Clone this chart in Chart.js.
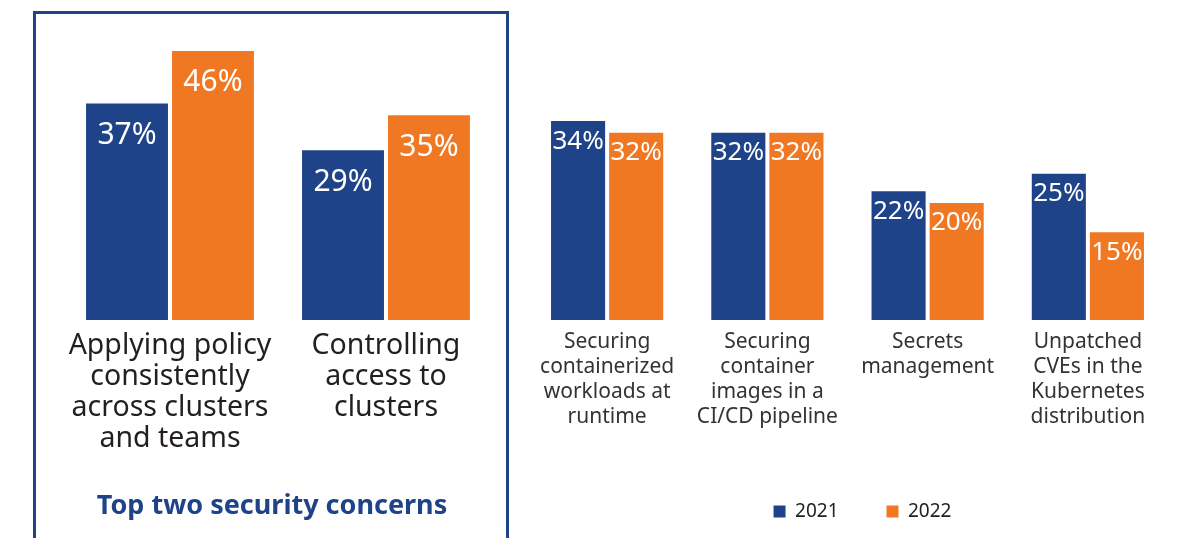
<!DOCTYPE html>
<html>
<head>
<meta charset="utf-8">
<script src="https://cdn.jsdelivr.net/npm/chart.js@4.4.1/dist/chart.umd.min.js"></script>
<style>
  html, body { margin: 0; padding: 0; background: #fff; }
  body { width: 1180px; height: 538px; position: relative; overflow: hidden; }
  #box {
    position: absolute; left: 33px; top: 11px; width: 476px; height: 560px;
    border: 3px solid #1F4388; box-sizing: border-box;
  }
  .wrap { position: absolute; top: 0; height: 538px; }
  #leftWrap  { left: 34px;  width: 474px; }
  #rightWrap { left: 520px; width: 690px; }
</style>
</head>
<body>
<div id="box"></div>
<div class="wrap" id="leftWrap"><canvas id="topChart"></canvas></div>
<div class="wrap" id="rightWrap"><canvas id="otherChart"></canvas></div>

<script>
'use strict';

/* data */
const seriesLabels = ['2021', '2022'];

const topCategories = [
  ['Applying policy', 'consistently', 'across clusters', 'and teams'],
  ['Controlling', 'access to', 'clusters'],
];
const top2021 = [37, 29];
const top2022 = [46, 35];

const otherCategories = [
  ['Securing', 'containerized', 'workloads at', 'runtime'],
  ['Securing', 'container', 'images in a', 'CI/CD pipeline'],
  ['Secrets', 'management'],
  ['Unpatched', 'CVEs in the', 'Kubernetes', 'distribution'],
];
const other2021 = [34, 32, 22, 25];
const other2022 = [32, 32, 20, 15];

const BLUE   = '#1F4388';
const ORANGE = '#F07822';
const FONT   = '"Noto Sans", "DejaVu Sans", sans-serif';

/* white % labels inside the top of each bar */
const valueLabels = {
  id: 'valueLabels',
  afterDatasetsDraw(chart, args, opts) {
    const ctx = chart.ctx;
    ctx.save();
    ctx.fillStyle = '#fff';
    ctx.font = opts.size + 'px ' + FONT;
    ctx.textAlign = 'center';
    ctx.textBaseline = 'middle';
    chart.data.datasets.forEach((ds, i) => {
      chart.getDatasetMeta(i).data.forEach((bar, j) => {
        ctx.fillText(ds.data[j] + '%', bar.x, bar.y + opts.offset);
      });
    });
    ctx.restore();
  },
};

// an empty y axis of fixed width: only used to nudge title/legend sideways
const blankY = (pos, w) => ({
  display: true, position: pos, min: 0, max: 50,
  grid: { display: false, drawTicks: false },
  border: { display: false },
  ticks: { display: false },
  afterFit: s => { s.width = w; },
});

/* ── Left: top two concerns ── */
new Chart(document.getElementById('topChart').getContext('2d'), {
  type: 'bar',
  data: {
    labels: topCategories,
    datasets: [
      { label: seriesLabels[0], data: top2021, backgroundColor: BLUE,
        categoryPercentage: 0.796, barPercentage: 0.953 },
      { label: seriesLabels[1], data: top2022, backgroundColor: ORANGE,
        categoryPercentage: 0.796, barPercentage: 0.953 },
    ],
  },
  plugins: [valueLabels],
  options: {
    responsive: true, maintainAspectRatio: false, animation: false,
    layout: { padding: { left: 16, right: 14, top: 27.5, bottom: 0 } },
    plugins: {
      legend: { display: false },
      tooltip: { enabled: false },
      title: {
        display: true, position: 'bottom',
        text: 'Top two security concerns',
        color: BLUE,
        font: { family: FONT, size: 27, weight: 'bold', lineHeight: 1.2 },
        padding: { top: 0, bottom: 15 },
      },
      valueLabels: { size: 30, offset: 32 },
    },
    scales: {
      y: blankY('left', 12),
      x: {
        grid: { display: false, drawTicks: false },
        border: { display: false },
        ticks: {
          color: '#231F20', padding: 10.5, autoSkip: false, maxRotation: 0,
          font: { family: FONT, size: 28.5, lineHeight: 1.09 },
        },
        afterFit: s => { s.height = 170.6; },
      },
    },
  },
});

/* ── Right: other concerns ── */
new Chart(document.getElementById('otherChart').getContext('2d'), {
  type: 'bar',
  data: {
    labels: otherCategories,
    datasets: [
      { label: seriesLabels[0], data: other2021, backgroundColor: BLUE,
        categoryPercentage: 0.725, barPercentage: 0.931 },
      { label: seriesLabels[1], data: other2022, backgroundColor: ORANGE,
        categoryPercentage: 0.725, barPercentage: 0.931 },
    ],
  },
  plugins: [valueLabels],
  options: {
    responsive: true, maintainAspectRatio: false, animation: false,
    layout: { padding: { left: 7, right: 12, top: 27.5, bottom: 7 } },
    plugins: {
      legend: {
        position: 'bottom',
        labels: {
          boxWidth: 12, boxHeight: 12, padding: 48, color: '#222',
          font: { family: FONT, size: 19 },
        },
      },
      tooltip: { enabled: false },
      valueLabels: { size: 26, offset: 20 },
    },
    scales: {
      y: blankY('right', 30),
      x: {
        grid: { display: false, drawTicks: false },
        border: { display: false },
        ticks: {
          color: '#333', padding: 9.5, autoSkip: false, maxRotation: 0,
          font: { family: FONT, size: 21, lineHeight: 1.19 },
        },
        afterFit: s => { s.height = 134; },
      },
    },
  },
});
</script>
</body>
</html>
